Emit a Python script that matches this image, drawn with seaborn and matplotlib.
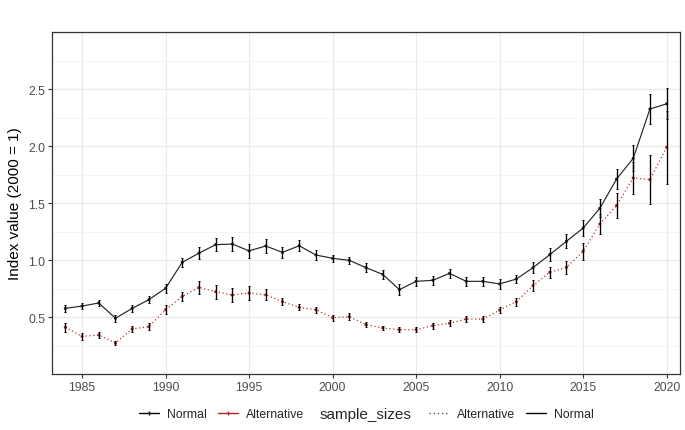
import numpy as np
import pandas as pd
import matplotlib
matplotlib.use("Agg")
import matplotlib.pyplot as plt
from matplotlib.lines import Line2D
from matplotlib.ticker import MultipleLocator
import seaborn as sns

years = list(range(1984, 2021))

normal = [0.576, 0.596, 0.623, 0.489, 0.576, 0.652, 0.752, 0.98, 1.06, 1.135,
          1.14, 1.08, 1.123, 1.067, 1.125, 1.044, 1.015, 0.997, 0.933, 0.874,
          0.74, 0.813, 0.822, 0.883, 0.813, 0.813, 0.79, 0.833, 0.933, 1.047,
          1.164, 1.28, 1.453, 1.71, 1.892, 2.325, 2.37]
normal_err = [0.03, 0.03, 0.03, 0.03, 0.03, 0.03, 0.04, 0.04, 0.05, 0.06,
              0.06, 0.06, 0.06, 0.05, 0.05, 0.04, 0.03, 0.03, 0.04, 0.04,
              0.05, 0.04, 0.04, 0.04, 0.04, 0.04, 0.04, 0.035, 0.05, 0.06,
              0.06, 0.07, 0.08, 0.09, 0.115, 0.13, 0.135]

alternative = [0.41, 0.33, 0.342, 0.272, 0.395, 0.415, 0.564, 0.681, 0.76, 0.722,
               0.693, 0.71, 0.695, 0.634, 0.585, 0.564, 0.494, 0.503, 0.433, 0.404,
               0.389, 0.389, 0.424, 0.445, 0.482, 0.482, 0.561, 0.634, 0.775, 0.892,
               0.936, 1.076, 1.316, 1.477, 1.72, 1.705, 1.989]
alternative_err = [0.04, 0.03, 0.025, 0.02, 0.025, 0.03, 0.04, 0.04, 0.06, 0.06,
                   0.06, 0.06, 0.05, 0.03, 0.025, 0.025, 0.025, 0.03, 0.02, 0.02,
                   0.02, 0.02, 0.025, 0.025, 0.025, 0.025, 0.03, 0.035, 0.05, 0.05,
                   0.055, 0.076, 0.088, 0.107, 0.14, 0.215, 0.32]

groups = ["Normal", "Alternative"]
colors = {"Normal": "#262626", "Alternative": "#b22222"}


def main():
    df = pd.concat([
        pd.DataFrame({"year": years, "value": normal, "err": normal_err, "sample_sizes": "Normal"}),
        pd.DataFrame({"year": years, "value": alternative, "err": alternative_err, "sample_sizes": "Alternative"}),
    ])

    sns.set_theme(style="white")
    plt.rcParams["font.family"] = ["Liberation Sans", "DejaVu Sans"]

    fig = plt.figure(figsize=(6.85, 4.31), dpi=100)
    ax = fig.add_axes([0.0759, 0.1299, 0.9168, 0.7935])

    sns.lineplot(data=df, x="year", y="value", hue="sample_sizes", style="sample_sizes",
                 palette=colors, dashes={"Normal": "", "Alternative": (1, 2.2)},
                 linewidth=0.85, legend=False, ax=ax, zorder=3)
    sns.scatterplot(data=df, x="year", y="value", hue="sample_sizes", palette=colors,
                    s=5, linewidth=0, legend=False, ax=ax, zorder=4)

    for g in groups:
        d = df[df["sample_sizes"] == g]
        ax.errorbar(d["year"], d["value"], yerr=d["err"], fmt="none", ecolor="black",
                    elinewidth=0.95, capsize=0.7, capthick=0.7, zorder=5)

    ax.set_xlim(1983.2, 2020.8)
    ax.set_ylim(0, 3.0)
    ax.xaxis.set_major_locator(MultipleLocator(5))
    ax.yaxis.set_minor_locator(MultipleLocator(0.25))
    ax.set_yticks([0.5, 1.0, 1.5, 2.0, 2.5])
    ax.set_yticklabels(["0.5", "1.0", "1.5", "2.0", "2.5"])
    ax.grid(True, which="major", color="#ebebeb", linewidth=0.9)
    ax.grid(True, which="minor", axis="y", color="#f2f2f2", linewidth=0.6)
    ax.set_axisbelow(True)
    for sp in ax.spines.values():
        sp.set_color("#333333")
        sp.set_linewidth(0.9)
    ax.tick_params(axis="both", which="major", length=3, width=0.8, color="#333333",
                   labelcolor="#4d4d4d", labelsize=8.8, direction="out",
                   bottom=True, left=True, pad=2)
    ax.tick_params(which="minor", length=0)
    ax.set_xlabel("")
    ax.set_ylabel("Index value (2000 = 1)", fontsize=11, color="black", labelpad=4)

    h_color = [
        Line2D([], [], color="black", lw=1, marker="|", ms=3),
        Line2D([], [], color="#b22222", lw=1, marker="|", ms=3, mec="#b22222"),
    ]
    h_type = [
        Line2D([], [], color="#555555", lw=1, linestyle=(0, (1, 2))),
        Line2D([], [], color="black", lw=1),
    ]
    fig.legend(h_color, ["Normal", "Alternative"], loc="center left",
               bbox_to_anchor=(128 / 685, 0.037), ncol=2, frameon=False,
               fontsize=8.8, handlelength=1.6, handletextpad=0.7, columnspacing=0.9)
    fig.text(320 / 685, 0.037, "sample_sizes", fontsize=11, va="center", ha="left")
    fig.legend(h_type, ["Alternative", "Normal"], loc="center left",
               bbox_to_anchor=(418 / 685, 0.037), ncol=2, frameon=False,
               fontsize=8.8, handlelength=1.6, handletextpad=0.7, columnspacing=0.9)

    fig.savefig("out.png", dpi=100)


if __name__ == "__main__":
    main()
